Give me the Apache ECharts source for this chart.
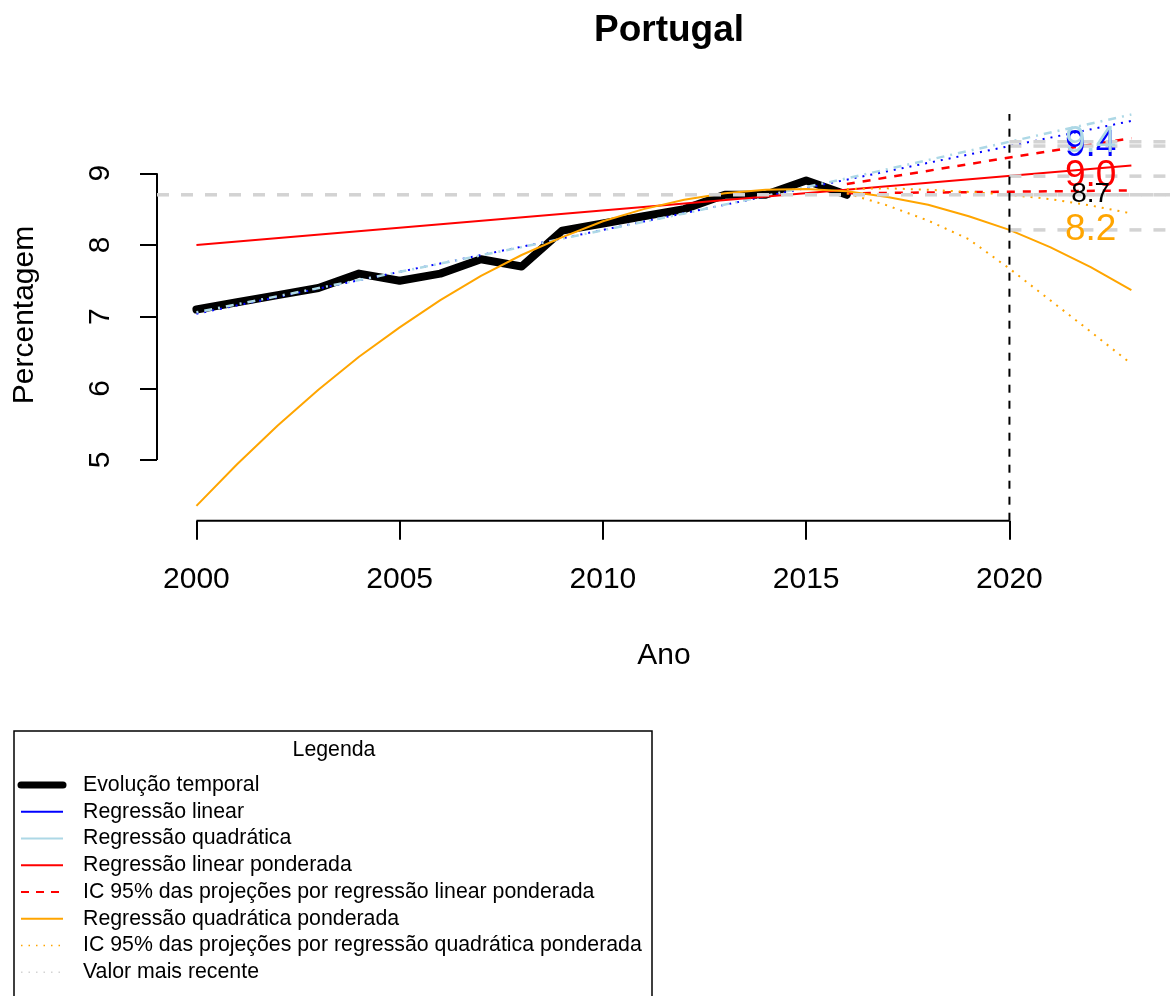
<!DOCTYPE html>
<html>
<head>
<meta charset="utf-8">
<title>Portugal</title>
<script src="https://cdn.jsdelivr.net/npm/echarts@6/dist/echarts.min.js"></script>
<style>
html, body { margin: 0; padding: 0; background: #fff; }
#chart { width: 1170px; height: 996px; }
</style>
</head>
<body>
<div id="chart"></div>
<script>
var FONT = "'Liberation Sans', Arial, Helvetica, sans-serif";

// evolução temporal
var anos = [2000, 2001, 2002, 2003, 2004, 2005, 2006, 2007, 2008, 2009, 2010, 2011, 2012, 2013, 2014, 2015, 2016];
var evolucao = [7.1, 7.2, 7.3, 7.4, 7.6, 7.5, 7.6, 7.8, 7.7, 8.2, 8.3, 8.4, 8.5, 8.7, 8.7, 8.9, 8.7];

// regressões
var anosRegLinear = [2000, 2023];
var regLinear = [7.04, 9.73];
var anosRegQuad = [2000, 2004, 2008, 2012, 2016, 2020, 2023];
var regQuad = [7.06, 7.51, 7.97, 8.44, 8.93, 9.44, 9.82];
var anosRegLinPond = [2000, 2023];
var regLinPond = [8.00, 9.11];
var anosICLin = [2016, 2020, 2023];
var icLinSup = [8.85, 9.22, 9.49];
var anosICLinInf = [2016, 2023];
var icLinInf = [8.72, 8.76];
var anosQuadPond = [2000, 2001, 2002, 2003, 2004, 2005, 2006, 2007, 2008, 2009, 2010, 2011,
    2012, 2013, 2014, 2015, 2016, 2017, 2018, 2019, 2020, 2021, 2022, 2023];
var regQuadPond = [4.36, 4.94, 5.48, 5.98, 6.44, 6.85, 7.23, 7.57, 7.86, 8.11, 8.33, 8.50,
    8.63, 8.72, 8.77, 8.78, 8.75, 8.67, 8.56, 8.40, 8.21, 7.97, 7.69, 7.37];
var anosICQuad = [2016, 2017, 2018, 2019, 2020, 2021, 2022, 2023];
var icQuadSup = [8.78, 8.79, 8.77, 8.74, 8.70, 8.64, 8.55, 8.44];
var icQuadInf = [8.72, 8.55, 8.34, 8.08, 7.67, 7.23, 6.79, 6.34];

var valorRecente = 8.7;
var anoProjecao = 2020;
var projNiveis = [9.38, 9.44, 8.96, 8.70, 8.21];
var projTextos = ["9.4", "9.4", "9.0", "8.7", "8.2"];
var projCores = ["#0000ff", "#add8e6", "#ff0000", "#000000", "#ffa500"];
var projTamanhos = [37, 37, 37, 28, 37];

var ticksX = [2000, 2005, 2010, 2015, 2020];
var ticksY = [5, 6, 7, 8, 9];

var legendaTextos = [
    "Evolução temporal",
    "Regressão linear",
    "Regressão quadrática",
    "Regressão linear ponderada",
    "IC 95% das projeções por regressão linear ponderada",
    "Regressão quadrática ponderada",
    "IC 95% das projeções por regressão quadrática ponderada",
    "Valor mais recente"
];

var X_MIN = 1999.03, X_MAX = 2023.95;
var Y_MIN = 4.153, Y_MAX = 9.827;

function pares(xs, ys) {
    return xs.map(function (x, i) { return [x, ys[i]]; });
}

function linha(xs, ys, estilo, z, clip) {
    return {
        type: 'line',
        data: pares(xs, ys),
        symbol: 'none',
        showSymbol: false,
        silent: true,
        animation: false,
        clip: clip !== false,
        z: z,
        lineStyle: estilo
    };
}

var series = [];
// eixos estilo R
series.push(linha([X_MIN, X_MIN], [ticksY[0], ticksY[ticksY.length - 1]], { color: '#000', width: 2 }, 1, false));
series.push(linha([ticksX[0], ticksX[ticksX.length - 1]], [Y_MIN, Y_MIN], { color: '#000', width: 2 }, 1, false));

series.push(linha(anos, evolucao, { color: '#000', width: 8, cap: 'round', join: 'round' }, 2));
series.push(linha(anosRegLinear, regLinear, { color: '#0000ff', width: 2, type: [2, 6] }, 3));
series.push(linha(anosRegQuad, regQuad, { color: '#add8e6', width: 2.5, type: [2, 6, 8, 6] }, 3));
series.push(linha(anosRegLinPond, regLinPond, { color: '#ff0000', width: 2 }, 4));
series.push(linha(anosICLin, icLinSup, { color: '#ff0000', width: 2.5, type: [8, 8] }, 4));
series.push(linha(anosICLinInf, icLinInf, { color: '#ff0000', width: 2.5, type: [8, 8] }, 4));
series.push(linha(anosQuadPond, regQuadPond, { color: '#ffa500', width: 2 }, 5));
series.push(linha(anosICQuad, icQuadSup, { color: '#ffa500', width: 2, type: [2, 6] }, 5));
series.push(linha(anosICQuad, icQuadInf, { color: '#ffa500', width: 2, type: [2, 6] }, 5));

// valor mais recente e níveis projetados
series.push(linha([X_MIN, X_MAX], [valorRecente, valorRecente], { color: '#d3d3d3', width: 3.5, type: [12, 12] }, 6));
projNiveis.forEach(function (v) {
    series.push(linha([anoProjecao, X_MAX], [v, v], { color: '#d3d3d3', width: 3.5, type: [12, 12] }, 6));
});
series.push(linha([anoProjecao, anoProjecao], [Y_MIN, Y_MAX], { color: '#000', width: 2, type: [8, 8] }, 7, false));

// rótulos das projeções
projNiveis.forEach(function (v, i) {
    series.push({
        type: 'scatter',
        data: [[2022.0, v]],
        symbolSize: 0,
        silent: true,
        animation: false,
        z: 8,
        itemStyle: { opacity: 1 },
        label: {
            show: true,
            position: 'inside',
            formatter: projTextos[i],
            color: projCores[i],
            opacity: 1,
            fontSize: projTamanhos[i],
            fontFamily: FONT
        }
    });
});

// legenda
var legX = 14, legY = 731, legW = 638;
var legFont = '21.3px ' + FONT;
var legG = [];
legG.push({ type: 'rect', shape: { x: legX, y: legY, width: legW, height: 300 },
    style: { fill: '#fff', stroke: '#000', lineWidth: 1.5 } });
legG.push({ type: 'text', x: 334, y: 750,
    style: { text: 'Legenda', font: legFont, fill: '#000', textAlign: 'center', textVerticalAlign: 'middle' } });
var legEstilos = [
    { stroke: '#000', lineWidth: 7, lineCap: 'round' },
    { stroke: '#0000ff', lineWidth: 2 },
    { stroke: '#add8e6', lineWidth: 2 },
    { stroke: '#ff0000', lineWidth: 2 },
    { stroke: '#ff0000', lineWidth: 2, lineDash: [8, 7] },
    { stroke: '#ffa500', lineWidth: 2 },
    { stroke: '#ffa500', lineWidth: 1.5, lineDash: [1.5, 6] },
    { stroke: '#d3d3d3', lineWidth: 1.5, lineDash: [1.5, 6] }
];
legendaTextos.forEach(function (t, i) {
    var cy = 785 + i * 26.75;
    legG.push({ type: 'line', shape: { x1: 21, y1: cy, x2: 63, y2: cy }, style: legEstilos[i] });
    legG.push({ type: 'text', x: 83, y: cy,
        style: { text: t, font: legFont, fill: '#000', textAlign: 'left', textVerticalAlign: 'middle' } });
});

var chart = echarts.init(document.getElementById('chart'), null, { renderer: 'canvas' });
chart.setOption({
    backgroundColor: '#ffffff',
    animation: false,
    grid: { left: 157, right: 0, top: 114, bottom: 475.3, containLabel: false },
    xAxis: {
        type: 'value',
        min: X_MIN,
        max: X_MAX,
        splitLine: { show: false },
        axisLine: { show: false },
        axisTick: { show: true, customValues: ticksX, length: 19, lineStyle: { color: '#000', width: 2 } },
        axisLabel: { show: true, customValues: ticksX, fontSize: 30, fontFamily: FONT, color: '#000', margin: 44,
            formatter: function (v) { return String(v); } }
    },
    yAxis: {
        type: 'value',
        min: Y_MIN,
        max: Y_MAX,
        splitLine: { show: false },
        axisLine: { show: false },
        axisTick: { show: true, customValues: ticksY, length: 17, lineStyle: { color: '#000', width: 2 } },
        axisLabel: { show: true, customValues: ticksY, rotate: 90, fontSize: 30, fontFamily: FONT, color: '#000', margin: 41,
            formatter: function (v) { return String(v); } }
    },
    series: series,
    graphic: [
        { type: 'text', x: 669, y: 31,
            style: { text: 'Portugal', font: 'bold 37px ' + FONT, fill: '#000', textAlign: 'center', textVerticalAlign: 'middle' } },
        { type: 'text', x: 664, y: 656,
            style: { text: 'Ano', font: '30px ' + FONT, fill: '#000', textAlign: 'center', textVerticalAlign: 'middle' } },
        { type: 'text', x: 25, y: 315, rotation: Math.PI / 2,
            style: { text: 'Percentagem', font: '30px ' + FONT, fill: '#000', textAlign: 'center', textVerticalAlign: 'middle' } },
        { type: 'group', children: legG }
    ]
});
</script>
</body>
</html>
